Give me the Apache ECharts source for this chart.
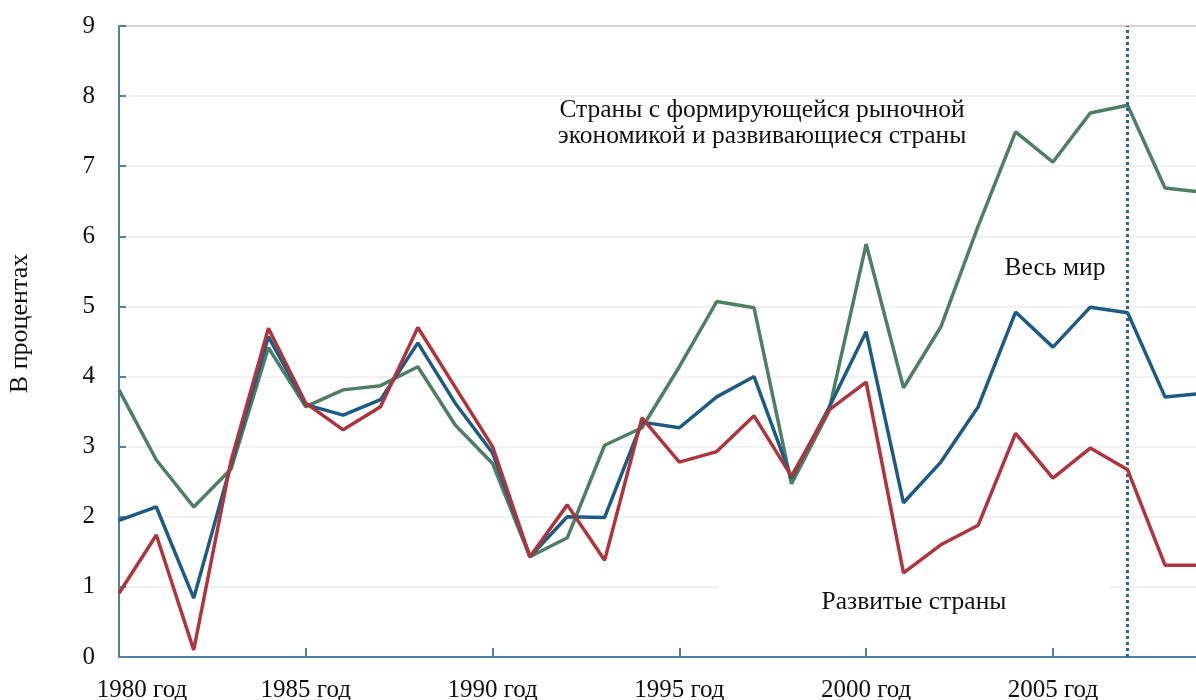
<!DOCTYPE html>
<html><head><meta charset="utf-8">
<script src="https://cdn.jsdelivr.net/npm/echarts@6/dist/echarts.min.js"></script>
<style>html,body{margin:0;padding:0;background:#fff}#c{width:1196px;height:700px}</style>
</head><body><div id="c"></div>
<script>
const years = [1980,1981,1982,1983,1984,1985,1986,1987,1988,1989,1990,1991,1992,1993,1994,1995,1996,1997,1998,1999,2000,2001,2002,2003,2004,2005,2006,2007,2008,2009];
const emerging = [3.81,2.81,2.14,2.68,4.41,3.57,3.81,3.87,4.14,3.31,2.76,1.43,1.70,3.02,3.27,4.14,5.07,4.98,2.47,3.50,5.89,3.84,4.71,6.15,7.49,7.06,7.76,7.87,6.69,6.63];
const world =    [1.95,2.14,0.84,2.75,4.57,3.60,3.45,3.67,4.48,3.62,2.91,1.43,2.00,1.99,3.35,3.27,3.71,4.00,2.55,3.55,4.64,2.20,2.78,3.57,4.92,4.42,4.99,4.91,3.71,3.76];
const advanced = [0.91,1.74,0.10,2.80,4.69,3.62,3.24,3.57,4.70,3.85,3.00,1.43,2.17,1.38,3.41,2.78,2.93,3.44,2.58,3.52,3.92,1.20,1.60,1.88,3.19,2.55,2.98,2.67,1.31,1.31];
const yTicks = [0,1,2,3,4,5,6,7,8,9];
const xTickYears = [1980,1985,1990,1995,2000,2005];
const forecastYear = 2007;
const yName = 'В процентах';
const labelEmerging = 'Страны с формирующейся рыночной\nэкономикой и развивающиеся страны';
const labelWorld = 'Весь мир';
const labelAdvanced = 'Развитые страны';

const FONT = '"Liberation Serif", "DejaVu Serif", serif';
const chart = echarts.init(document.getElementById('c'));
const pair = arr => years.map((y,i)=>[y,arr[i]]);
const gridColors = yTicks.map((t,i)=> i===yTicks.length-1 ? '#c4c4c4' : '#ececec');
const axisBlue = '#4f80a8';

chart.setOption({
  animation:false,
  backgroundColor:'#fff',
  grid:{left:119,right:0,top:26,bottom:43,containLabel:false,outerBoundsMode:'none'},
  xAxis:{type:'value',min:1980,max:2008.83,interval:5,
    axisLine:{show:true,onZero:false,lineStyle:{color:axisBlue,width:2}},
    axisTick:{show:true,inside:true,length:9,lineStyle:{color:axisBlue,width:2}},
    splitLine:{show:false},
    axisLabel:{showMaxLabel:false,margin:21,color:'#111',fontFamily:FONT,fontSize:25,
      rich:{first:{fontFamily:FONT,fontSize:25,color:'#111',padding:[0,0,0,46]}},
      formatter:v=> v===xTickYears[0] ? '{first|'+v+' год}' : (xTickYears.indexOf(v)>=0 ? v+' год' : '')}},
  yAxis:{type:'value',min:0,max:9,interval:1,
    name:yName,nameLocation:'middle',nameGap:86,nameRotate:90,
    nameTextStyle:{color:'#111',fontFamily:FONT,fontSize:26,padding:[0,0,0,36]},
    axisLine:{show:true,lineStyle:{color:axisBlue,width:2}},
    axisTick:{show:true,inside:true,length:7,lineStyle:{color:axisBlue,width:2}},
    splitLine:{show:true,lineStyle:{color:gridColors,width:1.5}},
    axisLabel:{margin:24,color:'#111',fontFamily:FONT,fontSize:25,formatter:v=>String(v)}},
  graphic:[
    {type:'rect',z:1,shape:{x:719,y:582,width:391,height:10},style:{fill:'#fff'}},
    {type:'text',z:10,x:762,y:123,style:{text:labelEmerging,fill:'#111',font:'25.5px '+FONT,align:'center',verticalAlign:'middle',lineHeight:26}},
    {type:'text',z:10,x:1055,y:268,style:{text:labelWorld,fill:'#111',font:'25.5px '+FONT,align:'center',verticalAlign:'middle'}},
    {type:'text',z:10,x:914,y:602,style:{text:labelAdvanced,fill:'#111',font:'25.5px '+FONT,align:'center',verticalAlign:'middle'}}
  ],
  series:[
    {type:'line',data:pair(emerging),symbol:'none',lineStyle:{color:'#4e7f64',width:3.5},z:3},
    {type:'line',data:pair(world),symbol:'none',lineStyle:{color:'#1d5b87',width:3.5},z:4},
    {type:'line',data:pair(advanced),symbol:'none',lineStyle:{color:'#b0343b',width:3.5},z:5,
      markLine:{silent:true,symbol:'none',label:{show:false},
        lineStyle:{color:'#2a6594',type:[3,3],width:3},
        data:[{xAxis:forecastYear}]}}
  ]
});
</script></body></html>
